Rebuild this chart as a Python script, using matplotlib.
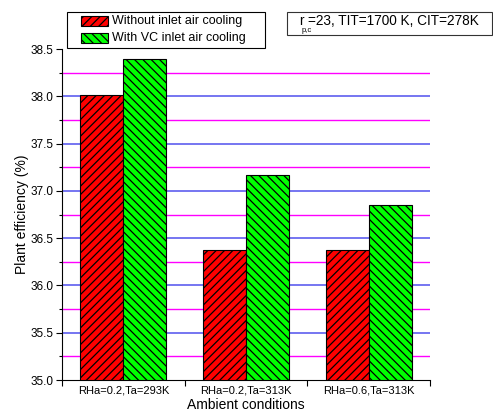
import numpy as np
import matplotlib.pyplot as plt
from matplotlib.patches import Rectangle

plt.rcParams['font.family'] = ['Liberation Sans', 'DejaVu Sans']
plt.rcParams['hatch.linewidth'] = 0.9

# Warunki otoczenia i sprawność elektrowni
warunki = ['RHa=0.2,Ta=293K', 'RHa=0.2,Ta=313K', 'RHa=0.6,Ta=313K']
bez_chlodzenia = [38.01, 36.37, 36.37]
z_chlodzeniem_vc = [38.39, 37.17, 36.85]
serie = ['Without inlet air cooling', 'With VC inlet air cooling']
kolory = ['#ff0000', '#00ff00']
kreskowanie = ['////', '\\\\\\\\']

x = np.arange(len(warunki)) + 0.5
szer = 0.35

fig = plt.figure(figsize=(4.93, 4.16), dpi=100)
ax = fig.add_axes([0.1258, 0.0865, 0.7464, 0.7957])

# Linie siatki (główne niebieskie, pomocnicze fioletowe)
for y in np.arange(35.5, 38.01, 0.5):
    ax.axhline(y, color='#6a6af0', lw=1.3, zorder=0)
for y in np.arange(35.25, 38.26, 0.5):
    ax.axhline(y, color='#ff00ff', lw=1.0, zorder=0)

ax.bar(x - szer/2, bez_chlodzenia, szer, color=kolory[0], edgecolor='black',
       hatch=kreskowanie[0], lw=0.8, zorder=2)
ax.bar(x + szer/2, z_chlodzeniem_vc, szer, color=kolory[1], edgecolor='black',
       hatch=kreskowanie[1], lw=0.8, zorder=2)

ax.set_xlim(0, 3)
ax.set_ylim(35.0, 38.5)
ax.set_yticks(np.arange(35.0, 38.51, 0.5))
ax.set_yticks(np.arange(35.25, 38.5, 0.5), minor=True)
ax.set_yticklabels(['%.1f' % v for v in np.arange(35.0, 38.51, 0.5)], fontsize=8.5)
ax.set_xticks([0, 1, 2, 3])
ax.set_xticklabels([])
ax.set_xticks(x, minor=True)
ax.set_xticklabels(warunki, minor=True, fontsize=8)
ax.tick_params(axis='x', which='minor', length=0, pad=4)
ax.tick_params(axis='both', which='major', direction='out', length=4, width=0.8)
ax.tick_params(axis='y', which='major', pad=2)
ax.tick_params(axis='y', which='minor', direction='out', length=2.5, width=0.8)

ax.spines['top'].set_visible(False)
ax.spines['right'].set_visible(False)

ax.set_xlabel('Ambient conditions', fontsize=10, labelpad=2)
ax.set_ylabel('Plant efficiency (%)', fontsize=10, labelpad=1)

W, H = 493.0, 416.0

def fx(px):
    return px / W

def fy(py):
    return 1 - py / H

# Legenda rysowana ręcznie
fig.patches.append(Rectangle((fx(67), fy(48)), fx(198), 36 / H,
                             transform=fig.transFigure, fill=False,
                             edgecolor='black', lw=0.8))
for i, (nazwa, kol, h) in enumerate(zip(serie, kolory, kreskowanie)):
    yc = 21 + 17 * i
    fig.patches.append(Rectangle((fx(81), fy(yc + 5)), fx(27), 10 / H,
                                 transform=fig.transFigure, facecolor=kol,
                                 edgecolor='black', hatch=h, lw=0.8))
    fig.text(fx(112), fy(yc), nazwa, fontsize=9, va='center', ha='left')

# Ramka z parametrami
fig.patches.append(Rectangle((fx(287), fy(35)), fx(205), 23 / H,
                             transform=fig.transFigure, fill=False,
                             edgecolor='#333333', lw=0.8))
fig.text(fx(299), fy(21), 'r', fontsize=9.8, va='center', ha='left')
fig.text(fx(307.5), fy(21), '=23, TIT=1700 K, CIT=278K', fontsize=9.8,
         va='center', ha='left')
fig.text(fx(302), fy(31), 'p,c', fontsize=5.5, va='center', ha='left')

fig.savefig('out.png', dpi=100)
